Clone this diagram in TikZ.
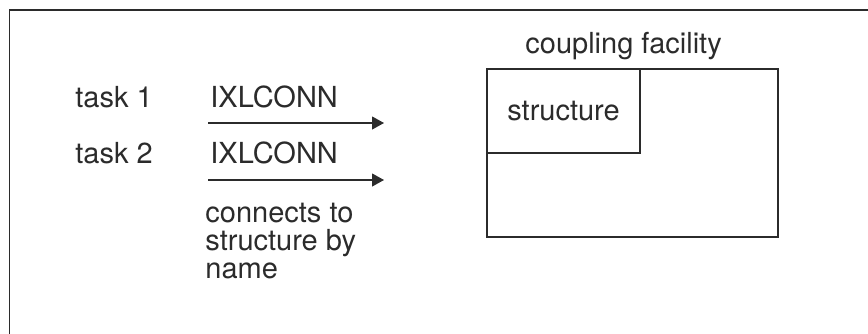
\documentclass[tikz,border=0pt]{standalone}
\usepackage{fontspec}
\setmainfont{TeX Gyre Heros}
\usetikzlibrary{arrows.meta}
\definecolor{ink}{HTML}{2B2B2B}
\tikzset{
  lbl/.style={anchor=base west, inner sep=0pt, text=ink, font=\fontsize{14.5}{14}\selectfont},
  conn/.style={draw=ink, line width=0.55pt, -{Triangle[length=6pt,width=6.5pt]}},
  box/.style={draw=ink, line width=0.55pt, inner sep=0pt}
}
\begin{document}
\begin{tikzpicture}[x=0.5pt,y=-0.5pt]
\useasboundingbox (0,0) rectangle (868,333);
% frame
\draw [ink, line width=0.8pt] (9.5,340) -- (9.5,10) -- (880,10);
% tasks
\node (task1) [lbl] at (75,107) {task 1};
\node (conn1) [lbl] at (210,107) {IXLCONN};
\node (task2) [lbl] at (75,163) {task 2};
\node (conn2) [lbl] at (210,163) {IXLCONN};
\coordinate (a1s) at (208,123);
\coordinate (a1e) at (384,123);
\coordinate (a2s) at (208,180);
\coordinate (a2e) at (384,180);
\draw [conn] (a1s) -- (a1e);
\draw [conn] (a2s) -- (a2e);
% base of a multi-line node is its last line
\node (note) [lbl, align=left] at (205,278) {connects to\\structure by\\name};
% coupling facility
\node (cf) [box, minimum width=145.5pt, minimum height=84pt] at (632.5,153) {};
\node (cflbl) [lbl] at (525,53) {coupling facility};
\node (struct) [box, text=ink, font=\fontsize{14.5}{14}\selectfont, minimum width=76.5pt, minimum height=42pt] at (563.5,111) {structure};
\end{tikzpicture}
\end{document}
